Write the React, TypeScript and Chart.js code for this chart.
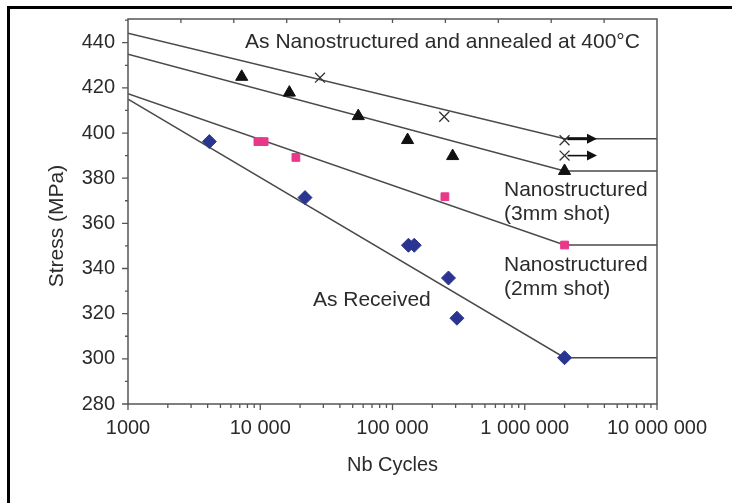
import React, { useEffect, useRef } from 'react';
import { Chart, registerables } from 'chart.js';

Chart.register(...registerables);

// ---- axis ticks ----
const xTickValues = [1000, 10000, 100000, 1000000, 10000000];
const xTickLabels = ['1000', '10 000', '100 000', '1 000 000', '10 000 000'];
const yTickValues = [280, 300, 320, 340, 360, 380, 400, 420, 440];
const yMinorValues = [290, 310, 330, 350, 370, 390, 410, 430, 450];

// ---- measured points ----
const receivedX = [4120, 21800, 132000, 146000, 265000, 307000, 2000000];
const receivedY = [396.2, 371.4, 350.3, 350.3, 335.8, 318.0, 300.5];

const nano2X = [9600, 10700, 18600, 249000, 2000000];
const nano2Y = [396.2, 396.2, 389.2, 371.8, 350.4];

const nano3X = [7240, 16600, 55100, 130000, 285000, 2000000];
const nano3Y = [424.9, 417.9, 407.5, 396.9, 389.8, 383.2];

const annealedX = [28300, 246000, 2000000, 2000000];
const annealedY = [424.5, 407.2, 396.8, 390.0];

// ---- fitted lines ----
const fitX = [1000, 2000000, 10000000];
const receivedFitY = [415.0, 300.5, 300.5];
const nano2FitY = [417.4, 350.4, 350.4];
const nano3FitY = [434.9, 383.2, 383.2];
const annealedFitY = [444.2, 397.5, 397.5];

// ---- run-out arrows ----
const arrowY = [397.5, 390.0];
const arrowWidth = [3, 1.6];
const arrowFromX = 2000000;
const arrowToX = 3520000;

// ---- annotations ----
const noteLines = [
  ['As Nanostructured and annealed at 400°C'],
  ['Nanostructured', '(3mm shot)'],
  ['Nanostructured', '(2mm shot)'],
  ['As Received'],
];
const noteX = [7680, 697000, 697000, 25000];
const noteY = [440.1, 374.8, 341.6, 326.1];

const FONT = '"Liberation Sans", Arial, Helvetica, sans-serif';
const TEXT = '#2b2b2b';
const AXIS = '#555555';
const LINE = '#4a4a4a';

const pts = (xs: number[], ys: number[]) => xs.map((x, i) => ({ x, y: ys[i] }));

const decorations = {
  id: 'decorations',
  afterDatasetsDraw(chart: any) {
    const { ctx, chartArea: a, scales } = chart;
    const xs = scales.x;
    const ys = scales.y;
    ctx.save();
    // arrows
    ctx.strokeStyle = '#111';
    ctx.fillStyle = '#111';
    arrowY.forEach((yv, i) => {
      const y = ys.getPixelForValue(yv);
      const x0 = xs.getPixelForValue(arrowFromX) + 3;
      const x1 = xs.getPixelForValue(arrowToX);
      const head = 10;
      ctx.lineWidth = arrowWidth[i];
      ctx.beginPath();
      ctx.moveTo(x0, y);
      ctx.lineTo(x1 - head + 1, y);
      ctx.stroke();
      ctx.beginPath();
      ctx.moveTo(x1, y);
      ctx.lineTo(x1 - head, y - 5);
      ctx.lineTo(x1 - head, y + 5);
      ctx.closePath();
      ctx.fill();
    });
    // annotations
    ctx.fillStyle = TEXT;
    ctx.font = `21px ${FONT}`;
    ctx.textAlign = 'left';
    ctx.textBaseline = 'middle';
    noteLines.forEach((lines, i) => {
      const x = xs.getPixelForValue(noteX[i]);
      const y = ys.getPixelForValue(noteY[i]);
      lines.forEach((t, j) => ctx.fillText(t, x, y + j * 24));
    });
    // frame
    ctx.strokeStyle = AXIS;
    ctx.lineWidth = 1.5;
    ctx.strokeRect(a.left, a.top, a.right - a.left, a.bottom - a.top);
    ctx.lineWidth = 1.3;
    ctx.beginPath();
    // y ticks
    yTickValues.forEach((v) => {
      const y = ys.getPixelForValue(v);
      ctx.moveTo(a.left - 6, y);
      ctx.lineTo(a.left, y);
    });
    yMinorValues.forEach((v) => {
      if (v >= ys.max) return;
      const y = ys.getPixelForValue(v);
      ctx.moveTo(a.left - 3, y);
      ctx.lineTo(a.left, y);
    });
    // x ticks
    xTickValues.forEach((v) => {
      const x = xs.getPixelForValue(v);
      ctx.moveTo(x, a.bottom);
      ctx.lineTo(x, a.bottom + 6);
    });
    for (let d = 1000; d < 10000000; d *= 10) {
      for (let m = 2; m <= 9; m++) {
        const x = xs.getPixelForValue(d * m);
        ctx.moveTo(x, a.bottom);
        ctx.lineTo(x, a.bottom + 4);
      }
    }
    // top ticks
    for (let k = 1; k < 10; k++) {
      const x = xs.getPixelForValue(Math.pow(10, 3 + 0.4 * k));
      ctx.moveTo(x, a.top);
      ctx.lineTo(x, a.top + 4);
    }
    ctx.stroke();
    ctx.restore();
  },
};

export default function App() {
  const ref = useRef<HTMLCanvasElement | null>(null);

  useEffect(() => {
    if (!ref.current) return;
    const markerBase = { showLine: false, pointBorderWidth: 1 };
    const lineBase = {
      showLine: true,
      pointRadius: 0,
      borderColor: LINE,
      borderWidth: 1.5,
      fill: false,
    };
    const chart = new Chart(ref.current, {
      type: 'scatter',
      data: {
        datasets: [
          {
            ...markerBase,
            label: 'As Received',
            data: pts(receivedX, receivedY),
            pointStyle: 'rectRot',
            pointRadius: 7,
            backgroundColor: '#2a3590',
            borderColor: '#2a3590',
          },
          {
            ...markerBase,
            label: 'Nanostructured (2mm shot)',
            data: pts(nano2X, nano2Y),
            pointStyle: 'rect',
            pointRadius: 5.5,
            backgroundColor: '#e8388a',
            borderColor: '#e8388a',
          },
          {
            ...markerBase,
            label: 'Nanostructured (3mm shot)',
            data: pts(nano3X, nano3Y),
            pointStyle: 'triangle',
            pointRadius: 7,
            backgroundColor: '#111111',
            borderColor: '#111111',
          },
          {
            ...markerBase,
            label: 'As Nanostructured and annealed at 400°C',
            data: pts(annealedX, annealedY),
            pointStyle: 'crossRot',
            pointRadius: 7,
            pointBorderWidth: 1.3,
            backgroundColor: '#333333',
            borderColor: '#333333',
          },
          { ...lineBase, label: 'fit received', data: pts(fitX, receivedFitY) },
          { ...lineBase, label: 'fit 2mm', data: pts(fitX, nano2FitY) },
          { ...lineBase, label: 'fit 3mm', data: pts(fitX, nano3FitY) },
          { ...lineBase, label: 'fit annealed', data: pts(fitX, annealedFitY) },
        ],
      },
      options: {
        responsive: false,
        animation: false,
        events: [],
        layout: { padding: { top: 10, right: 75, left: 0, bottom: 0 } },
        plugins: {
          legend: { display: false },
          tooltip: { enabled: false },
          title: { display: false },
        },
        scales: {
          x: {
            type: 'logarithmic',
            position: 'bottom',
            min: 1000,
            max: 10000000,
            afterBuildTicks: (s: any) => {
              s.ticks = xTickValues.map((v) => ({ value: v }));
            },
            afterFit: (s: any) => {
              s.height = 99;
              s.paddingLeft = 0;
              s.paddingRight = 0;
            },
            grid: { display: false, drawTicks: false },
            border: { display: false },
            ticks: {
              autoSkip: false,
              maxRotation: 0,
              padding: 12,
              color: TEXT,
              font: { family: FONT, size: 20 },
              callback: (v: any) => {
                const i = xTickValues.indexOf(Number(v));
                return i >= 0 ? xTickLabels[i] : '';
              },
            },
            title: {
              display: true,
              text: 'Nb Cycles',
              color: TEXT,
              font: { family: FONT, size: 20 },
              padding: { top: 0, bottom: 26 },
            },
          },
          y: {
            type: 'linear',
            min: 280,
            max: 450.5,
            afterBuildTicks: (s: any) => {
              s.ticks = yTickValues.map((v) => ({ value: v }));
            },
            afterFit: (s: any) => {
              s.width = 118;
              s.paddingTop = 0;
              s.paddingBottom = 0;
            },
            grid: { display: false, drawTicks: false },
            border: { display: false },
            ticks: {
              padding: 13,
              color: TEXT,
              font: { family: FONT, size: 20 },
              callback: (v: any) => String(v),
            },
            title: {
              display: true,
              text: 'Stress (MPa)     ',
              color: TEXT,
              font: { family: FONT, size: 21 },
              padding: { top: 35, bottom: 0 },
            },
          },
        },
      },
      plugins: [decorations],
    } as any);
    return () => chart.destroy();
  }, []);

  return (
    <div>
      <div
        style={{
          position: 'absolute',
          left: 7,
          top: 6,
          width: 740,
          height: 520,
          borderLeft: '3px solid #000',
          borderTop: '3px solid #000',
          boxSizing: 'border-box',
        }}
      />
      <canvas
        ref={ref}
        width={722}
        height={494}
        style={{ position: 'absolute', left: 10, top: 9, width: 722, height: 494, display: 'block' }}
      />
    </div>
  );
}
